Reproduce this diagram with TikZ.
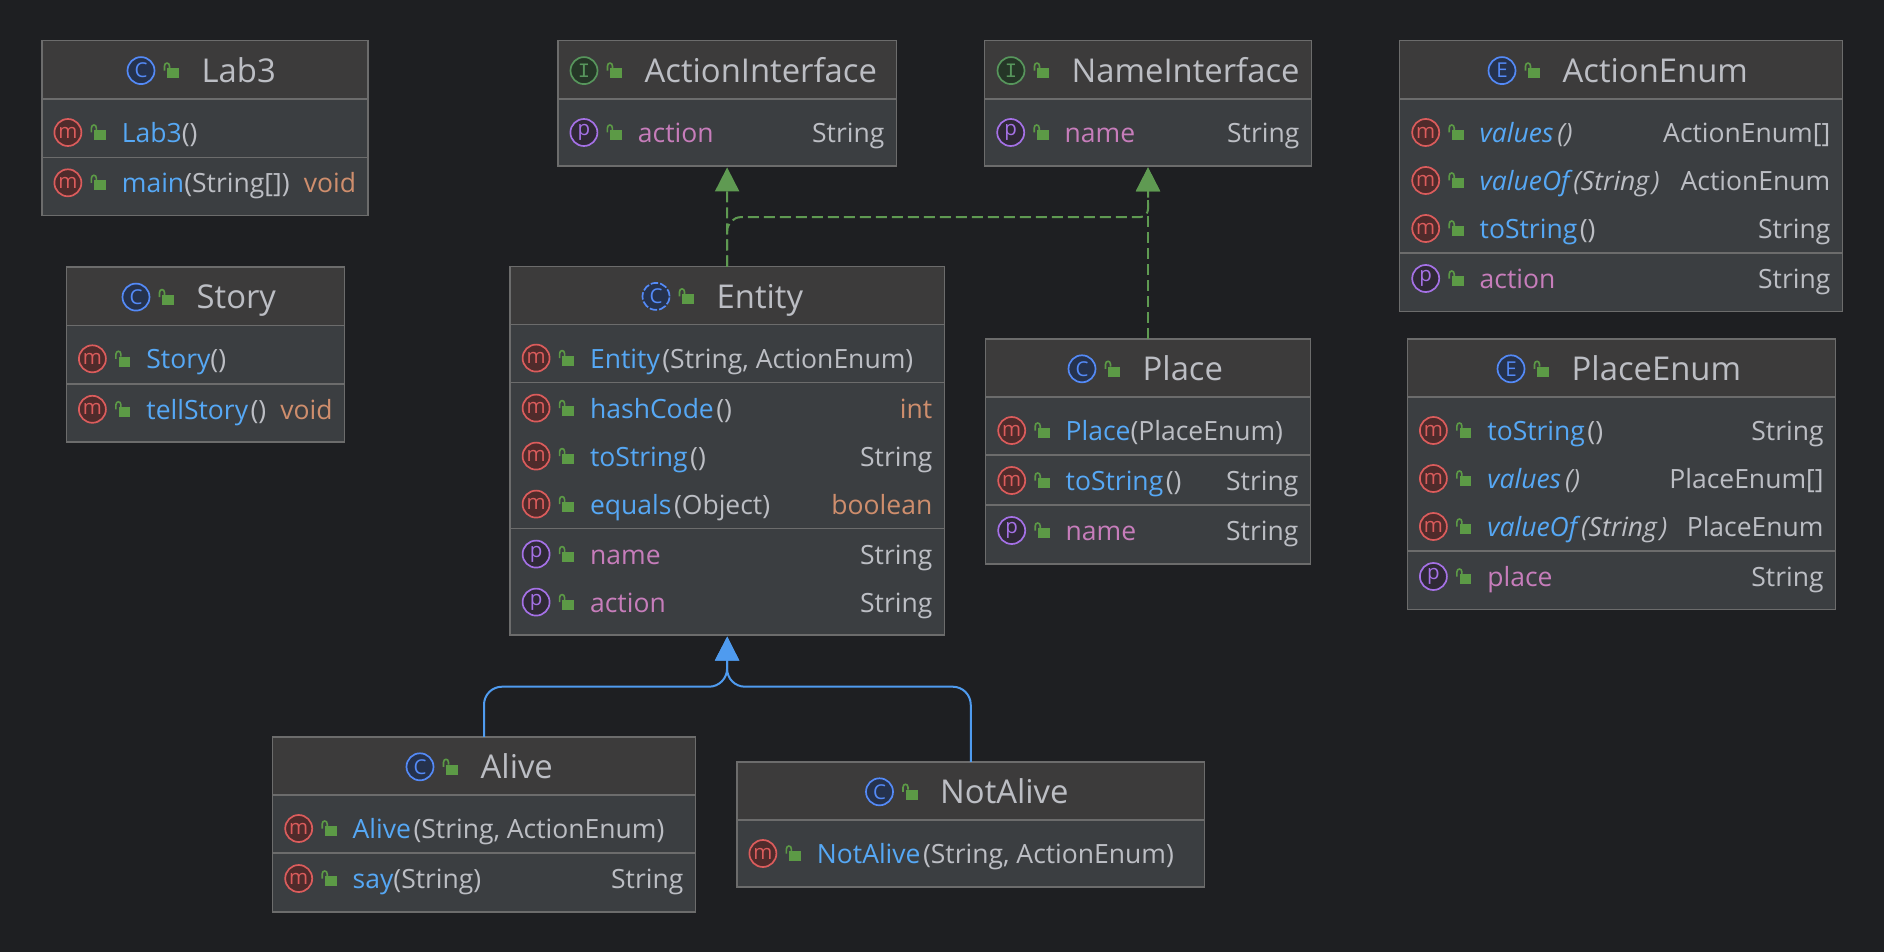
\documentclass[tikz,border=0pt]{standalone}
\usepackage{fontspec}
\setmainfont{Open Sans}
\newfontfamily\iconmono{Liberation Mono}
\usetikzlibrary{arrows.meta,fit}

\definecolor{bgcol}{HTML}{1E1F22}
\definecolor{bodycol}{HTML}{3B3E41}
\definecolor{headcol}{HTML}{3C3B3B}
\definecolor{linecol}{HTML}{6C6C6C}
\definecolor{txtcol}{HTML}{BCBEC4}
\definecolor{mthcol}{HTML}{56A8F5}
\definecolor{prpcol}{HTML}{C77DBB}
\definecolor{retcol}{HTML}{CF8E6D}
\definecolor{lockcol}{HTML}{5C9A46}
\definecolor{implcol}{HTML}{5F9A52}
\definecolor{inhcol}{HTML}{4F9BEF}
\definecolor{mline}{HTML}{DB5C5C}
\definecolor{mfill}{HTML}{4F2B2B}
\definecolor{pline}{HTML}{A571E6}
\definecolor{pfill}{HTML}{2F2936}
\definecolor{cline}{HTML}{548AF7}
\definecolor{cfill}{HTML}{25324D}
\definecolor{iline}{HTML}{57965C}
\definecolor{ifill}{HTML}{253627}

\tikzset{
  icon/.style={circle,inner sep=0,minimum size=27pt,line width=1.7pt,font=\fontsize{20.5}{20.5}\selectfont},
  iconm/.style={icon,draw=mline,fill=mfill,text=mline},
  iconp/.style={icon,draw=pline,fill=pfill,text=pline},
  iconc/.style={icon,draw=cline,fill=cfill,text=cline},
  iconi/.style={icon,draw=iline,fill=ifill,text=iline},
  iconabs/.style={iconc,dash pattern=on 7.5pt off 2pt},
  lockopen/.pic={
    \fill[lockcol] (-3.7,-2.3) rectangle (8,7.7);
    \draw[lockcol,line width=1.6pt] (-6.5,0) -- (-6.5,-4.5) .. controls (-6.5,-8.5) and (-1.5,-8.5) .. (-1.5,-4.5) -- (-1.5,-2.3);
  },
  umlname/.style={anchor=base west,inner sep=0,text=txtcol,font=\fontsize{26.5}{26.5}\selectfont},
  umltype/.style={anchor=base east,inner sep=0,text=txtcol,font=\fontsize{26.5}{26.5}\selectfont},
  umltitle/.style={anchor=base west,inner sep=0,text=txtcol,font=\fontsize{32.8}{32.8}\selectfont},
  implarrow/.style={draw=implcol,line width=2pt,dash pattern=on 11pt off 5pt,shorten >=1.5pt,-{Triangle[length=24pt,width=24pt]}},
  inharrow/.style={draw=inhcol,line width=2pt,shorten >=1.5pt,-{Triangle[length=24pt,width=24pt]}},
}

\newcommand{\mth}[1]{\textcolor{mthcol}{#1}\kern2.5pt}
\newcommand{\mtht}[1]{\textcolor{mthcol}{#1}}
\newcommand{\mthi}[1]{\textcolor{mthcol}{\itshape #1}\kern4pt}
\newcommand{\prp}[1]{\textcolor{prpcol}{#1}}
\newcommand{\ret}[1]{\textcolor{retcol}{#1}}

% name, left, top, right, bottom
\newcommand{\umlbox}[5]{
  \pgfmathsetmacro\heady{#3+58}
  \pgfmathsetmacro\boxl{#2+0.6}
  \pgfmathsetmacro\boxr{#4-0.6}
  \node[fill=bodycol,inner sep=0,fit={(\boxl,#3) (\boxr,#5)}] (#1) {};
  \fill[headcol] (#1.north west) rectangle (#1.east |- 0,\heady);
  \umlsep{#1}{\heady}
  \draw[linecol,line width=1.5pt] (#1.north west) rectangle (#1.south east);
}
\newcommand{\umlsep}[2]{
  \draw[linecol,line width=1.5pt] (#1.west |- 0,#2) -- (#1.east |- 0,#2);
}
% box, icon style, letter, icon x, title
\newcommand{\umlhead}[5]{
  \node[#2] (#1icon) at ([yshift=-29.9pt]#4,0 |- #1.north) {#3};
  \pic at ([xshift=30pt]#1icon.center) {lockopen};
  \node[umltitle] (#1title) at ([xshift=60.5pt,yshift=-11.7pt]#1icon.center) {#5};
}
% [type], row, m or p, box, y, name
\newcommand{\umlrow}[6][]{
  \node[icon#3] (#2icon) at ([xshift=26pt,yshift=-0.4pt]#4.west |- 0,#5) {#3};
  \pic at ([xshift=30pt]#2icon.center) {lockopen};
  \node[umlname] (#2name) at ([xshift=53.8pt,yshift=-10pt]#2icon.center) {#6};
  \if\relax\detokenize{#1}\relax\else
    \node[umltype] (#2type) at ([xshift=-11.8pt,yshift=-10.4pt]#4.east |- 0,#5) {#1};
  \fi
}

\begin{document}
\begin{tikzpicture}[x=1pt,y=-1pt]

  \fill[bgcol] (0,-0.4) rectangle (1884,951.6);

  \umlbox{lab}{41.5}{40.5}{368.5}{215}
  \umlbox{story}{66}{267}{345}{441.5}
  \umlbox{actionif}{557.5}{40.5}{896.7}{165.3}
  \umlbox{nameif}{984.3}{40.5}{1311.7}{165.3}
  \umlbox{actionenum}{1399.3}{40.5}{1842.7}{311}
  \umlbox{placeenum}{1407}{338.7}{1836}{609}
  \umlbox{entity}{509.7}{266.3}{944.7}{634.5}
  \umlbox{place}{985.3}{338.7}{1310.7}{563.5}
  \umlbox{alive}{272.3}{736.7}{695.7}{911.5}
  \umlbox{notalive}{736.5}{761.7}{1205}{886.5}

  \umlsep{lab}{157}
  \umlsep{story}{383.5}
  \umlsep{actionenum}{252.5}
  \umlsep{placeenum}{550.7}
  \umlsep{entity}{382.3}
  \umlsep{entity}{528.3}
  \umlsep{place}{454.7}
  \umlsep{place}{504.7}
  \umlsep{alive}{852.7}

  \umlhead{lab}{iconc}{C}{141}{Lab3}
  \umlhead{story}{iconc}{C}{136}{Story}
  \umlhead{actionif}{iconi}{\iconmono I}{584}{ActionInterface}
  \umlhead{nameif}{iconi}{\iconmono I}{1011}{NameInterface}
  \umlhead{actionenum}{iconc}{E}{1502}{ActionEnum}
  \umlhead{placeenum}{iconc}{E}{1511}{PlaceEnum}
  \umlhead{entity}{iconabs}{C}{656}{Entity}
  \umlhead{place}{iconc}{C}{1082}{Place}
  \umlhead{alive}{iconc}{C}{420}{Alive}
  \umlhead{notalive}{iconc}{C}{879.5}{NotAlive}

  \umlrow{labctor}{m}{lab}{131.7}{\mtht{Lab3}()}
  \umlrow[\ret{void}]{labmain}{m}{lab}{182}{\mtht{main}(String[])}
  \umlrow{storyctor}{m}{story}{358}{\mtht{Story}()}
  \umlrow[\ret{void}]{storytell}{m}{story}{408.5}{\mth{tellStory}()}

  \umlrow[String]{ifaction}{p}{actionif}{131.7}{\prp{action}}
  \umlrow[String]{ifname}{p}{nameif}{131.7}{\prp{name}}

  \umlrow[ActionEnum{[]}]{aevalues}{m}{actionenum}{131.7}{\mthi{values}\textit{()}}
  \umlrow[ActionEnum]{aevalueof}{m}{actionenum}{179.7}{\mthi{valueOf}\textit{(String\kern3pt)}}
  \umlrow[String]{aetostring}{m}{actionenum}{227.7}{\mth{toString}()}
  \umlrow[String]{aeaction}{p}{actionenum}{277.7}{\prp{action}}

  \umlrow[String]{petostring}{m}{placeenum}{429.7}{\mth{toString}()}
  \umlrow[PlaceEnum{[]}]{pevalues}{m}{placeenum}{477.7}{\mthi{values}\textit{()}}
  \umlrow[PlaceEnum]{pevalueof}{m}{placeenum}{525.7}{\mthi{valueOf}\textit{(String\kern3pt)}}
  \umlrow[String]{peplace}{p}{placeenum}{575.7}{\prp{place}}

  \umlrow{entctor}{m}{entity}{357.3}{\mth{Entity}(String, ActionEnum)}
  \umlrow[\ret{int}]{enthash}{m}{entity}{407.3}{\mth{hashCode}()}
  \umlrow[String]{enttostring}{m}{entity}{455.3}{\mth{toString}()}
  \umlrow[\ret{boolean}]{entequals}{m}{entity}{503.3}{\mth{equals}(Object)}
  \umlrow[String]{entname}{p}{entity}{553.3}{\prp{name}}
  \umlrow[String]{entaction}{p}{entity}{601.3}{\prp{action}}

  \umlrow{plctor}{m}{place}{429.7}{\mtht{Place}(PlaceEnum)}
  \umlrow[String]{pltostring}{m}{place}{479.7}{\mth{toString}()}
  \umlrow[String]{plname}{p}{place}{529.7}{\prp{name}}

  \umlrow{alctor}{m}{alive}{827.7}{\mth{Alive}(String, ActionEnum)}
  \umlrow[String]{alsay}{m}{alive}{877.7}{\mtht{say}(String)}
  \umlrow{nactor}{m}{notalive}{852.7}{\mth{NotAlive}(String, ActionEnum)}

  \coordinate (implbus) at (900,216.7);
  \coordinate (inhbus) at (727,686.3);

  \path (entity) edge[implarrow] (actionif);
  \path (place) edge[implarrow] (nameif);
  \draw[implarrow] (entity.north) [rounded corners=14pt] |- (implbus) [rounded corners=8pt] -| (nameif.south);
  \draw[inharrow] (alive.north) [rounded corners=18pt] |- (inhbus) [rounded corners=8pt] -- (entity.south);
  \draw[inharrow] (notalive.north) [rounded corners=18pt] |- (inhbus) [rounded corners=8pt] -- (entity.south);

\end{tikzpicture}
\end{document}
